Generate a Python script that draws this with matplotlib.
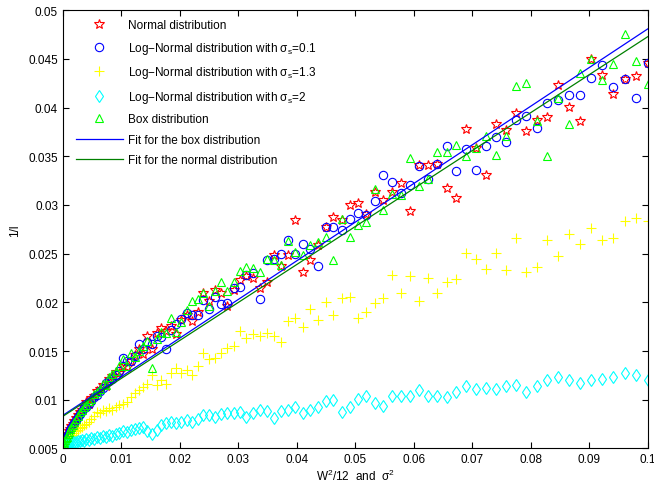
import matplotlib
matplotlib.use('Agg')
import matplotlib.pyplot as plt
import numpy as np

plt.rcParams['font.family'] = ['Liberation Sans', 'DejaVu Sans']
plt.rcParams['mathtext.default'] = 'regular'

# x values (W^2/12 and sigma^2)
x = [0, 0.00001, 0.00004, 0.00009, 0.00016, 0.00025, 0.00036, 0.00049, 0.00064, 0.00081,
     0.001, 0.00121, 0.00144, 0.00169, 0.00196, 0.00225, 0.00256, 0.00289, 0.00324, 0.00361,
     0.004, 0.00441, 0.00484, 0.00529, 0.00576, 0.00625, 0.00676, 0.00729, 0.00784, 0.00841,
     0.009, 0.00961, 0.01024, 0.01089, 0.01156, 0.01225, 0.01296, 0.01369, 0.01444, 0.01521,
     0.016, 0.01681, 0.01764, 0.01849, 0.01936, 0.02025, 0.02116, 0.02209, 0.02304, 0.02401,
     0.025, 0.02601, 0.02704, 0.02809, 0.02916, 0.03025, 0.03136, 0.03249, 0.03364, 0.03481,
     0.036, 0.03721, 0.03844, 0.03969, 0.04096, 0.04225, 0.04356, 0.04489, 0.04624, 0.04761,
     0.049, 0.05041, 0.05184, 0.05329, 0.05476, 0.05625, 0.05776, 0.05929, 0.06084, 0.06241,
     0.064, 0.06561, 0.06724, 0.06889, 0.07056, 0.07225, 0.07396, 0.07569, 0.07744, 0.07921,
     0.081, 0.08281, 0.08464, 0.08649, 0.08836, 0.09025, 0.09216, 0.09409, 0.09604, 0.09801, 0.1]

y_normal = [0.0050, 0.0051, 0.0052, 0.0054, 0.0056, 0.0058, 0.0059, 0.0061, 0.0063, 0.0065,
            0.0068, 0.0070, 0.0073, 0.0075, 0.0078, 0.0081, 0.0084, 0.0087, 0.0089, 0.0093,
            0.0098, 0.0096, 0.0102, 0.0104, 0.0109, 0.0111, 0.0115, 0.0114, 0.0121, 0.0124,
            0.0128, 0.0127, 0.0135, 0.0134, 0.0140, 0.0146, 0.0152, 0.0147, 0.0165, 0.0152,
            0.0168, 0.0174, 0.0171, 0.0176, 0.0167, 0.0182, 0.0187, 0.0181, 0.0190, 0.0210,
            0.0201, 0.0213, 0.0210, 0.0196, 0.0213, 0.0223, 0.0227, 0.0225, 0.0215, 0.0221,
            0.0249, 0.0237, 0.0249, 0.0285, 0.0231, 0.0244, 0.0259, 0.0277, 0.0288, 0.0285,
            0.0300, 0.0302, 0.0291, 0.0313, 0.0305, 0.0313, 0.0323, 0.0294, 0.0341, 0.0341,
            0.0342, 0.0317, 0.0307, 0.0378, 0.0359, 0.0331, 0.0383, 0.0377, 0.0394, 0.0376,
            0.0387, 0.0390, 0.0423, 0.0401, 0.0386, 0.0450, 0.0434, 0.0414, 0.0429, 0.0432, 0.0446]

y_logn01 = [0.0050, 0.0050, 0.0051, 0.0053, 0.0055, 0.0056, 0.0058, 0.0060, 0.0062, 0.0064,
            0.0066, 0.0069, 0.0071, 0.0074, 0.0076, 0.0079, 0.0082, 0.0085, 0.0088, 0.0091,
            0.0092, 0.0096, 0.0099, 0.0103, 0.0105, 0.0109, 0.0112, 0.0117, 0.0119, 0.0121,
            0.0125, 0.0129, 0.0143, 0.0140, 0.0140, 0.0145, 0.0157, 0.0152, 0.0159, 0.0157,
            0.0165, 0.0164, 0.0152, 0.0172, 0.0178, 0.0183, 0.0189, 0.0187, 0.0187, 0.0202,
            0.0193, 0.0206, 0.0198, 0.0199, 0.0215, 0.0216, 0.0228, 0.0230, 0.0203, 0.0244,
            0.0245, 0.0250, 0.0264, 0.0250, 0.0260, 0.0255, 0.0237, 0.0277, 0.0277, 0.0274,
            0.0286, 0.0292, 0.0290, 0.0304, 0.0331, 0.0324, 0.0312, 0.0321, 0.0340, 0.0327,
            0.0342, 0.0361, 0.0335, 0.0358, 0.0336, 0.0361, 0.0370, 0.0365, 0.0387, 0.0391,
            0.0379, 0.0405, 0.0408, 0.0413, 0.0413, 0.0430, 0.0444, 0.0421, 0.0429, 0.0410, 0.0446]

y_logn13 = [0.0050, 0.0050, 0.0051, 0.0052, 0.0053, 0.0054, 0.0055, 0.0056, 0.0057, 0.0058,
            0.0060, 0.0061, 0.0063, 0.0064, 0.0066, 0.0068, 0.0069, 0.0071, 0.0072, 0.0074,
            0.0075, 0.0077, 0.0080, 0.0083, 0.0087, 0.0086, 0.0089, 0.0088, 0.0091, 0.0089,
            0.0092, 0.0095, 0.0096, 0.0098, 0.0103, 0.0107, 0.0110, 0.0113, 0.0116, 0.0125,
            0.0115, 0.0120, 0.0116, 0.0127, 0.0133, 0.0127, 0.0130, 0.0125, 0.0135, 0.0148,
            0.0142, 0.0143, 0.0148, 0.0153, 0.0155, 0.0171, 0.0163, 0.0167, 0.0165, 0.0168,
            0.0165, 0.0159, 0.0181, 0.0184, 0.0175, 0.0193, 0.0182, 0.0200, 0.0187, 0.0204,
            0.0206, 0.0184, 0.0190, 0.0199, 0.0204, 0.0228, 0.0210, 0.0227, 0.0201, 0.0225,
            0.0210, 0.0221, 0.0224, 0.0251, 0.0245, 0.0234, 0.0251, 0.0233, 0.0266, 0.0231,
            0.0236, 0.0264, 0.0248, 0.0270, 0.0260, 0.0276, 0.0264, 0.0266, 0.0284, 0.0287, 0.0284]

y_logn2 = [0.0050, 0.0050, 0.0051, 0.0051, 0.0052, 0.0052, 0.0053, 0.0053, 0.0054, 0.0054,
           0.0055, 0.0055, 0.0056, 0.0056, 0.0057, 0.0057, 0.0058, 0.0058, 0.0059, 0.0058,
           0.0060, 0.0059, 0.0061, 0.0060, 0.0062, 0.0061, 0.0063, 0.0062, 0.0064, 0.0063,
           0.0065, 0.0066, 0.0068, 0.0067, 0.0069, 0.0070, 0.0071, 0.0072, 0.0068, 0.0065,
           0.0069, 0.0074, 0.0076, 0.0077, 0.0076, 0.0077, 0.0079, 0.0077, 0.0080, 0.0084,
           0.0084, 0.0082, 0.0085, 0.0086, 0.0086, 0.0087, 0.0082, 0.0086, 0.0089, 0.0088,
           0.0081, 0.0088, 0.0089, 0.0092, 0.0086, 0.0089, 0.0092, 0.0099, 0.0100, 0.0087,
           0.0093, 0.0101, 0.0104, 0.0097, 0.0094, 0.0104, 0.0104, 0.0104, 0.0110, 0.0104,
           0.0104, 0.0103, 0.0108, 0.0114, 0.0111, 0.0112, 0.0111, 0.0114, 0.0115, 0.0108,
           0.0114, 0.0120, 0.0123, 0.0120, 0.0117, 0.0120, 0.0121, 0.0123, 0.0127, 0.0125, 0.0120]

y_box = [0.0050, 0.0050, 0.0052, 0.0053, 0.0055, 0.0057, 0.0059, 0.0061, 0.0062, 0.0065,
         0.0067, 0.0070, 0.0072, 0.0074, 0.0077, 0.0080, 0.0083, 0.0087, 0.0089, 0.0093,
         0.0095, 0.0099, 0.0101, 0.0106, 0.0108, 0.0111, 0.0116, 0.0115, 0.0123, 0.0126,
         0.0129, 0.0135, 0.0142, 0.0135, 0.0148, 0.0144, 0.0150, 0.0155, 0.0160, 0.0133,
         0.0162, 0.0170, 0.0169, 0.0184, 0.0170, 0.0180, 0.0192, 0.0201, 0.0203, 0.0210,
         0.0196, 0.0212, 0.0221, 0.0212, 0.0221, 0.0232, 0.0236, 0.0235, 0.0231, 0.0245,
         0.0243, 0.0238, 0.0263, 0.0252, 0.0249, 0.0259, 0.0262, 0.0267, 0.0244, 0.0286,
         0.0267, 0.0279, 0.0283, 0.0316, 0.0295, 0.0311, 0.0310, 0.0348, 0.0320, 0.0327,
         0.0354, 0.0354, 0.0362, 0.0350, 0.0359, 0.0371, 0.0351, 0.0371, 0.0422, 0.0425,
         0.0386, 0.0350, 0.0410, 0.0383, 0.0436, 0.0450, 0.0428, 0.0445, 0.0476, 0.0448, 0.0424]

# linear fits: intercept, slope
fit_box = (0.0084, 0.397)
fit_normal = (0.0083, 0.390)

labels = ['Normal distribution',
          'Log\u2212Normal distribution with $\\sigma_s$=0.1',
          'Log\u2212Normal distribution with $\\sigma_s$=1.3',
          'Log\u2212Normal distribution with $\\sigma_s$=2',
          'Box distribution',
          'Fit for the box distribution',
          'Fit for the normal distribution']

fig = plt.figure(figsize=(6.54, 4.89), dpi=100)
ax = fig.add_axes([0.0963, 0.081, 0.8945, 0.896])

mk = dict(linestyle='none', markerfacecolor='none', markeredgewidth=0.8)
ax.plot(x, y_normal, marker='*', color='red', markersize=7, label=labels[0], **mk)
ax.plot(x, y_logn01, marker='o', color='blue', markersize=6, label=labels[1], **mk)
ax.plot(x, y_logn13, marker='+', color='yellow', markersize=7, label=labels[2], **mk)
ax.plot(x, y_logn2, marker='d', color='cyan', markersize=6.5, label=labels[3], **mk)
ax.plot(x, y_box, marker='^', color=(0, 1, 0), markersize=6, label=labels[4], **mk)

xf = np.array([x[0], x[-1]])
ax.plot(xf, fit_box[0] + fit_box[1] * xf, color='blue', linewidth=0.9, label=labels[5])
ax.plot(xf, fit_normal[0] + fit_normal[1] * xf, color=(0, 0.5, 0), linewidth=0.9, label=labels[6])

ax.set_xlim(0, 0.1)
ax.set_ylim(0.005, 0.05)
xt = [0, 0.01, 0.02, 0.03, 0.04, 0.05, 0.06, 0.07, 0.08, 0.09, 0.1]
ax.set_xticks(xt)
ax.set_xticklabels(['0', '0.01', '0.02', '0.03', '0.04', '0.05', '0.06', '0.07', '0.08', '0.09', '0.1'])
yt = [0.005, 0.01, 0.015, 0.02, 0.025, 0.03, 0.035, 0.04, 0.045, 0.05]
ax.set_yticks(yt)
ax.set_yticklabels(['0.005', '0.01', '0.015', '0.02', '0.025', '0.03', '0.035', '0.04', '0.045', '0.05'])
ax.tick_params(direction='in', top=True, right=True, labelsize=8.5, length=4, width=0.8)
for s in ax.spines.values():
    s.set_linewidth(0.8)

ax.set_xlabel('W$^2$/12  and  $\\sigma^2$', fontsize=8.5, labelpad=2)
ax.set_ylabel('1/l', fontsize=8.5, labelpad=5)

ax.legend(loc='upper left', bbox_to_anchor=(0.015, 0.99), frameon=False, fontsize=8.5,
          numpoints=1, handlelength=3.9, handletextpad=0.5, labelspacing=0.72, borderaxespad=0)

fig.savefig('out.png', dpi=100)
